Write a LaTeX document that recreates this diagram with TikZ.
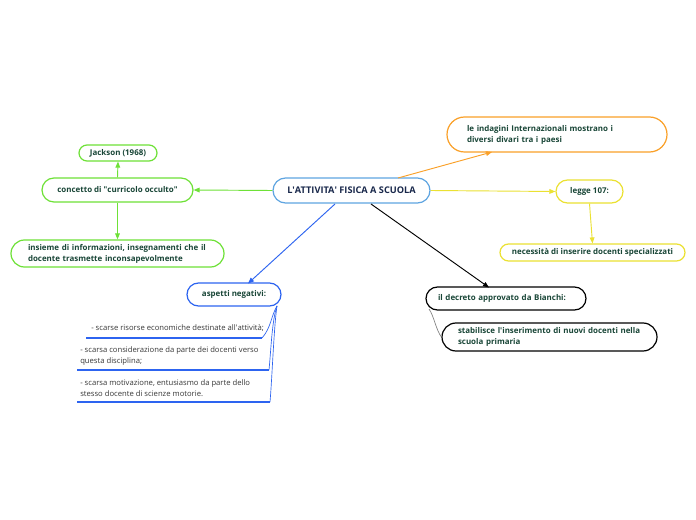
\documentclass[tikz,border=0pt]{standalone}
\usepackage{fontspec}
\setmainfont{Open Sans}
\usetikzlibrary{arrows.meta}
\definecolor{cgreen}{RGB}{110,225,55}
\definecolor{corange}{RGB}{250,160,40}
\definecolor{cyellow}{RGB}{235,225,50}
\definecolor{cblue}{RGB}{45,100,240}
\definecolor{ccentral}{RGB}{95,165,225}
\definecolor{ctext}{RGB}{25,70,55}
\definecolor{cnavy}{RGB}{25,40,75}
\definecolor{clist}{RGB}{55,55,55}
\tikzset{
  sz/.style 2 args={minimum width=#1*0.75pt, minimum height=#2*0.75pt, rounded corners=#2*0.375pt},
  box/.style={draw, line width=0.9pt, inner sep=0pt, font=\bfseries\fontsize{5.95}{8.2}\selectfont, text=ctext, fill=white},
  tw/.style={text width=#1*0.75pt, align=left},
  itemtxt/.style={anchor=north west, inner sep=0pt, align=left, font=\fontsize{5.75}{8.2}\selectfont, text=clist},
  uline/.style={cblue, line width=1.1pt},
  arr/.style={-{Triangle[length=4.5pt,width=3.5pt]}, line width=0.7pt},
  thin/.style={line width=0.5pt}
}
\begin{document}
\begin{tikzpicture}[x=0.75pt,y=-0.75pt]
\useasboundingbox[fill=white] (0,0) rectangle (696,520);

% nodes
\node[box, sz={157}{25}, draw=ccentral, text=cnavy, font=\bfseries\fontsize{6.9}{8}\selectfont] (central) at (351.5,190.5) {L\textquotesingle ATTIVITA\textquotesingle{} FISICA A SCUOLA};
\node[box, sz={78}{16}, draw=cgreen] (jackson) at (118,153) {Jackson (1968)};
\node[box, sz={151}{24}, draw=cgreen] (concetto) at (117.5,190) {concetto di \textquotedbl curricolo occulto\textquotedbl};
\node[box, sz={213}{27}, draw=cgreen, tw=179] (insieme) at (117.5,253.5) {\mbox{insieme di informazioni, insegnamenti che il}\\\mbox{docente trasmette inconsapevolmente}};
\node[box, sz={220}{35}, draw=corange, tw=180] (indagini) at (557,134.5) {\mbox{le indagini Internazionali mostrano i}\\\mbox{diversi divari tra i paesi}};
\node[box, sz={67}{23}, draw=cyellow] (legge) at (589.5,191.5) {legge 107:};
\node[box, sz={185}{17}, draw=cyellow] (necessita) at (592.5,252.5) {necessità di inserire docenti specializzati};
\node[box, sz={94}{23}, draw=cblue] (aspetti) at (234,294.5) {aspetti negativi:};
\node[box, sz={160}{23}, draw=black, tw=136] (decreto) at (506,298.5) {\mbox{il decreto approvato da Bianchi:}};
\node[box, sz={215}{28}, draw=black, tw=183] (stabilisce) at (549.5,337) {\mbox{stabilisce l\textquotesingle inserimento di nuovi docenti nella}\\\mbox{scuola primaria}};

% list items
\node[itemtxt] (item1) at (91,324) {- scarse risorse economiche destinate all\textquotesingle attività;};
\node[itemtxt] (item2) at (80,346) {- scarsa considerazione da parte dei docenti verso\\questa disciplina;};
\node[itemtxt] (item3) at (80,379) {- scarsa motivazione, entusiasmo da parte dello\\stesso docente di scienze motorie.};
\coordinate (u1a) at (86,338); \coordinate (u1b) at (262,338);
\coordinate (u2a) at (77,370); \coordinate (u2b) at (269,370);
\coordinate (u3a) at (77,402); \coordinate (u3b) at (270,402);
\draw[uline] (u1a) -- (u1b);
\draw[uline] (u2a) -- (u2b);
\draw[uline] (u3a) -- (u3b);
\coordinate (asp) at (277,306);
\draw[cblue, thin] (asp) .. controls (271,316) and (271,328) .. (u1b);
\draw[cblue, thin] (asp) .. controls (272,320) and (271,350) .. (u2b);
\draw[cblue, thin] (asp) .. controls (274,325) and (272,380) .. (u3b);

% connectors
\draw[arr, cgreen] (central.west) -- (concetto.east);
\draw[arr, cgreen] (concetto.north) -- (jackson.south);
\draw[arr, cgreen] (concetto.south) -- (insieme.north);
\coordinate (orS) at (398,178);
\coordinate (orE) at (492,152);
\draw[arr, corange] (orS) -- (orE);
\draw[arr, cyellow] (central.east) -- (legge.west);
\draw[arr, cyellow] (legge.south) -- (necessita.north);
\coordinate (blS) at (335,204);
\coordinate (blE) at (248,283.5);
\draw[arr, cblue] (blS) -- (blE);
\coordinate (bkS) at (371,204);
\coordinate (bkE) at (489,287.5);
\draw[arr, black] (bkS) -- (bkE);
\coordinate (dec) at (429,309);
\draw[gray, thin] (dec) .. controls (434,316) and (436,330) .. (stabilisce.west);
\end{tikzpicture}
\end{document}
